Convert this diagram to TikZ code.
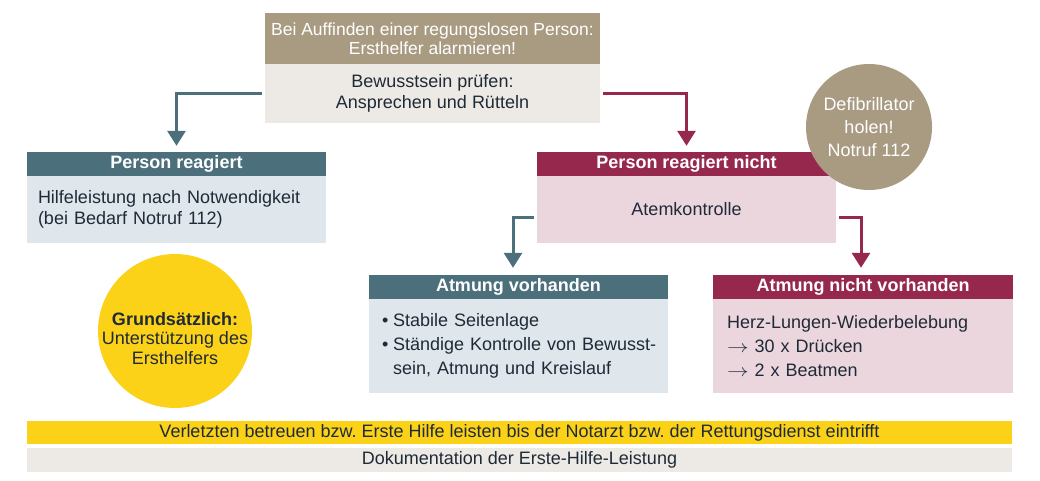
\documentclass[tikz,border=0pt]{standalone}
\usepackage{fontspec}
\usepackage{graphicx}
\setmainfont{Liberation Sans}
\usetikzlibrary{arrows.meta}
\definecolor{cTaupe}{HTML}{A89B82}
\definecolor{cGray}{HTML}{EDEAE5}
\definecolor{cTeal}{HTML}{4C6F7C}
\definecolor{cTealL}{HTML}{DFE6EC}
\definecolor{cMaroon}{HTML}{97284D}
\definecolor{cPink}{HTML}{ECD6DE}
\definecolor{cYellow}{HTML}{FCD219}
\definecolor{cText}{HTML}{1F2A37}
\newcommand{\myarrow}{\scalebox{1.25}[1]{$\rightarrow$}}
\frenchspacing
\begin{document}
\begin{tikzpicture}[x=1pt,y=-1pt,
  hdr/.style={inner sep=0pt, text=white, font=\bfseries\fontsize{18}{21}\selectfont, minimum height=24pt, minimum width=299pt},
  bodybox/.style={inner sep=0pt, text=cText, font=\fontsize{18}{21}\selectfont},
  arr/.style={line width=3pt, -{Triangle[width=18pt,length=15pt]}}
]
\useasboundingbox (0,0) rectangle (1040,481);

% top box
\node[hdr, fill=cTaupe, minimum width=335pt, minimum height=51pt, font=\fontsize{17.5}{19}\selectfont, align=center] (alarm) at (432.5,38.5) {Bei Auffinden einer regungslosen Person:\\Ersthelfer alarmieren!};
\node[bodybox, fill=cGray, minimum width=335pt, minimum height=59pt, align=center] (check) at (432.5,93.5) {Bewusstsein prüfen:\\Ansprechen und Rütteln};

% person reagiert
\node[hdr, fill=cTeal] (reH) at (176.5,164) {Person reagiert};
\node[bodybox, fill=cTealL, minimum height=67pt, inner xsep=11pt, text width=277pt, align=left] (reB) at (176.5,209.5) {\mbox{Hilfeleistung nach Notwendigkeit}\\(bei Bedarf Notruf 112)};

% person reagiert nicht
\node[hdr, fill=cMaroon] (niH) at (686.5,164) {Person reagiert nicht};
\node[bodybox, fill=cPink, minimum width=299pt, minimum height=67pt] (niB) at (686.5,209.5) {Atemkontrolle};

% atmung vorhanden
\node[hdr, fill=cTeal] (avH) at (518.5,287) {Atmung vorhanden};
\node[bodybox, fill=cTealL, minimum height=94pt, inner xsep=13pt, text width=273pt, align=left, font=\fontsize{18}{24}\selectfont] (avB) at (518.5,346) {\makebox[11pt][l]{•}Stabile Seitenlage\\\mbox{\makebox[11pt][l]{•}Ständige Kontrolle von Bewusst-}\\\hspace*{11pt}sein, Atmung und Kreislauf};

% atmung nicht vorhanden
\node[hdr, fill=cMaroon, minimum width=300pt] (anH) at (863,287) {Atmung nicht vorhanden};
\node[bodybox, fill=cPink, minimum height=94pt, inner xsep=14pt, text width=272pt, align=left, font=\fontsize{18}{24}\selectfont] (anB) at (863,346) {Herz-Lungen-Wiederbelebung\\\myarrow{} 30 x Drücken\\\myarrow{} 2 x Beatmen};

% circles
\node[circle, fill=cTaupe, minimum size=126pt, inner sep=0pt, text=white, align=center, font=\fontsize{18}{23}\selectfont] (defi) at (869,127) {Defibrillator\\holen!\\Notruf 112};
\node[circle, fill=cYellow, minimum size=154pt, inner sep=0pt] (grund) at (175,331) {};
\node[inner sep=0pt, text=cText, align=center, font=\fontsize{18}{19.5}\selectfont] (grundtxt) at ([yshift=-7.5pt]grund.center) {\textbf{Grundsätzlich:}\\Unterstützung des\\Ersthelfers};

% bottom bars
\node[bodybox, fill=cYellow, minimum width=985pt, minimum height=23pt] (betreuen) at (519.5,432.5) {Verletzten betreuen bzw. Erste Hilfe leisten bis der Notarzt bzw. der Rettungsdienst eintrifft};
\node[bodybox, fill=cGray, minimum width=985pt, minimum height=24pt] (doku) at (519.5,460) {Dokumentation der Erste-Hilfe-Leistung};

% arrows
\draw[arr, draw=cTeal, shorten >=6pt] ([xshift=-3pt]check.west) -| (reH.north);
\draw[arr, draw=cMaroon, shorten >=6pt] ([xshift=3pt]check.east) -| (niH.north);
\draw[arr, draw=cTeal, shorten >=7pt] ([xshift=-3pt,yshift=-7.5pt]niB.west) -| ([xshift=-5.5pt]avH.north);
\draw[arr, draw=cMaroon, shorten >=7pt] ([xshift=3pt,yshift=-7.5pt]niB.east) -| ([xshift=-2pt]anH.north);
\end{tikzpicture}
\end{document}
